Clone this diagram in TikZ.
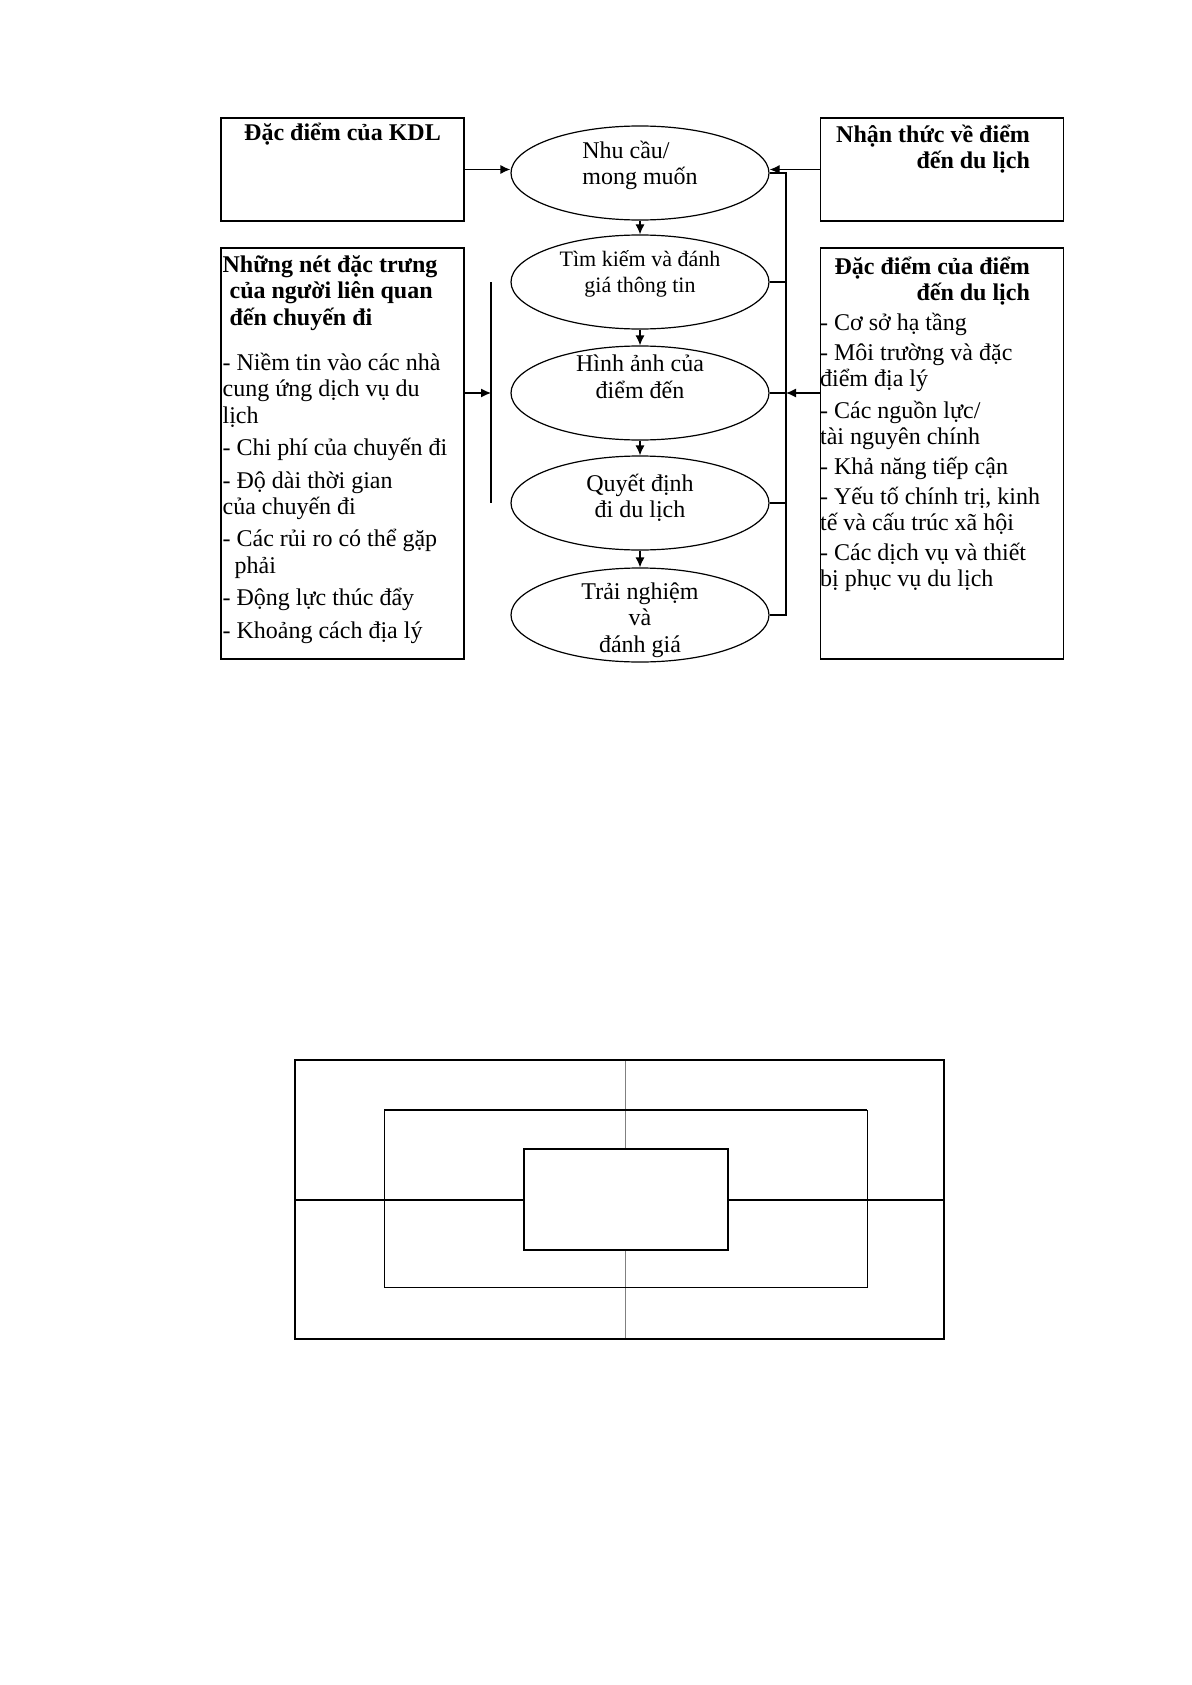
\documentclass[tikz,border=0pt]{standalone}
\usepackage{fontspec}
\setmainfont{Liberation Serif}
\usetikzlibrary{positioning,shapes.geometric,arrows.meta}
\lineskiplimit=-\maxdimen
\begin{document}
\begin{tikzpicture}
  [
    x = 0.5pt, y = -0.5pt,
    every node/.style = {font=\fontsize{12}{13.2}\selectfont, inner sep=0pt},
    title/.style      = {font=\fontsize{12}{13.2}\selectfont\bfseries},
    infobox/.style    = {draw, line width=0.8pt, minimum width=121.5pt},
    stage/.style      = {draw, ellipse, line width=0.6pt, minimum width=129pt, minimum height=47pt},
    conn/.style       = {line width=0.6pt},
    arr/.style        = {conn, -{Latex[length=5pt, width=4.5pt]}},
    heavy/.style      = {line width=1pt},
    hair/.style       = {line width=0.4pt}
  ]
 \useasboundingbox (0,0) rectangle (1191,1685);
 % side boxes
 \node[infobox, minimum height=51.5pt]  (kdl) at (342.5,169.5) {};
 \node[infobox, minimum height=51.5pt]  (nt)  at (942,169.5) {};
 \node[infobox, minimum height=205.5pt] (ln)  at (342.5,453.5) {};
 \node[infobox, minimum height=205.5pt] (dd)  at (942,453.5) {};
 \node[title, below=2.6pt of kdl.north] (kdltitle) {Đặc điểm của KDL};
 \node[title, align=right, below left=3.5pt and 17pt of nt.north east] (nttitle)
  {Nhận thức về điểm\\đến du lịch};
 \node[align=left, below right=4pt and 1pt of ln.north west] (lntext)
  {\textbf{Những nét đặc trưng}\\
   \textbf{\hspace*{3.5pt}của người liên quan}\\
   \textbf{\hspace*{3.5pt}đến chuyến đi}\\[9.4pt]
   - Niềm tin vào các nhà\\
   cung ứng dịch vụ du\\
   lịch\\[3pt]
   - Chi phí của chuyến đi\\[3pt]
   - Độ dài thời gian\\
   của chuyến đi\\[3pt]
   - Các rủi ro có thể gặp\\
   \hspace*{6pt}phải\\[3pt]
   - Động lực thúc đẩy\\[3pt]
   - Khoảng cách địa lý};
 \node[title, align=right, below left=4.5pt and 17pt of dd.north east] (ddtitle)
  {Đặc điểm của điểm\\đến du lịch};
 \coordinate (ddleft) at (ddtitle.south -| dd.west);
 \node[align=left, below right=3.4pt and 0pt of ddleft] (ddtext)
  {- Cơ sở hạ tầng\\[2pt]
   - Môi trường và đặc\\
   điểm địa lý\\[2.5pt]
   - Các nguồn lực/\\
   tài nguyên chính\\[1.5pt]
   - Khả năng tiếp cận\\[2pt]
   - Yếu tố chính trị, kinh\\
   tế và cấu trúc xã hội\\[1.5pt]
   - Các dịch vụ và thiết\\
   bị phục vụ du lịch};
 % stages
 \node[stage] (s1) at (640,173) {};
 \node[stage] (s2) at (640,282) {};
 \node[stage] (s3) at (640,393) {};
 \node[stage] (s4) at (640,503) {};
 \node[stage] (s5) at (640,615) {};
 \node[yshift=3.8pt, align=left] (t1) at (s1) {Nhu cầu/\\mong muốn};
 \node[yshift=4pt, align=center, font=\fontsize{11}{12.9}\selectfont] (t2) at (s2)
  {Tìm kiếm và đánh\\giá thông tin};
 \node[yshift=8.2pt, align=center] (t3) at (s3) {Hình ảnh của\\điểm đến};
 \node[yshift=2.5pt, align=center] (t4) at (s4) {Quyết định\\đi du lịch};
 \node[yshift=-2.5pt, align=center] (t5) at (s5) {Trải nghiệm\\và\\đánh giá};
 \foreach \a/\b in {s1/s2, s2/s3, s3/s4, s4/s5}
  \draw[arr] (\a) -- (\b);
 % connectors
 \draw[arr] (kdl.east) -- (kdl.east -| s1.west);
 \draw[arr] (nt.west) -- (nt.west -| s1.east);
 \coordinate (rbar) at (786,0);
 \coordinate (lbar) at (491,0);
 \draw[conn] (s1.east) -- (s1.east -| rbar) -- (s5.east -| rbar) -- (s5.east);
 \foreach \s in {s2, s3, s4}
  \draw[conn] (\s.east) -- (\s.east -| rbar);
 \draw[arr] (dd.west |- s3.east) -- (s3.east -| rbar);
 \draw[conn] (lbar |- s2) -- (lbar |- s4);
 \draw[arr] (ln.east |- s3) -- (lbar |- s3);
 % nested frames
 \coordinate (onw) at (294.5,1060);
 \coordinate (ose) at (943.8,1339);
 \coordinate (mnw) at (384,1110);
 \coordinate (mse) at (867.3,1287);
 \coordinate (inw) at (524,1148.5);
 \coordinate (ise) at (727.7,1250);
 \coordinate (mid) at (625.5,1199.5);
 \draw[gray, line width=0.3pt] (mid |- onw) -- (mid |- inw) (mid |- ise) -- (mid |- ose);
 \draw[hair] (mnw) rectangle (mse);
 \draw[heavy] (mnw) -- (mnw -| mse);
 \draw[heavy] (onw) rectangle (ose);
 \draw[heavy] (inw) rectangle (ise);
 \draw[heavy] (mid -| onw) -- (mid -| inw) (mid -| ise) -- (mid -| ose);
\end{tikzpicture}
\end{document}
